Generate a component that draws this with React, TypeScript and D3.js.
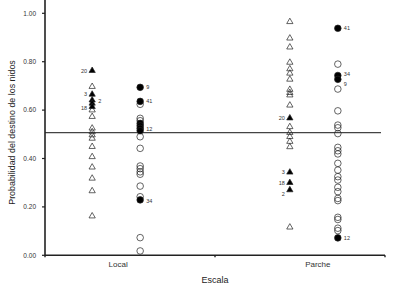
import React from "react";
import * as d3 from "d3";

const categories = ["Local", "Parche"];
const yTicks = [0, 0.2, 0.4, 0.6, 0.8, 1.0];
const cutoff = 0.507;

// Local – triangles
const localTriOpen = [0.697, 0.6, 0.573, 0.525, 0.51, 0.497, 0.483, 0.449, 0.407, 0.364, 0.318, 0.266, 0.162];
const localTriFilled = [0.763, 0.665, 0.641, 0.628, 0.614];
// Local – circles
const localCirOpen = [0.624, 0.566, 0.556, 0.49, 0.442, 0.369, 0.358, 0.345, 0.335, 0.286, 0.242, 0.073, 0.018];
const localCirFilled = [0.694, 0.636, 0.545, 0.535, 0.525, 0.515, 0.229];
// Parche – triangles
const parcheTriOpen = [0.965, 0.897, 0.86, 0.797, 0.77, 0.752, 0.727, 0.685, 0.672, 0.662, 0.62, 0.531, 0.507, 0.49, 0.47, 0.448, 0.116];
const parcheTriFilled = [0.567, 0.343, 0.3, 0.27];
// Parche – circles
const parcheCirOpen = [0.79, 0.687, 0.597, 0.538, 0.527, 0.503, 0.446, 0.432, 0.419, 0.38, 0.352, 0.325, 0.311, 0.281, 0.263, 0.235, 0.226, 0.157, 0.148, 0.112, 0.102];
const parcheCirFilled = [0.938, 0.743, 0.727, 0.072];

// point labels: [category, shape, value, text, side]
const pointLabels: [string, string, number, string, string][] = [
  ["Local", "tri", 0.763, "20", "left"],
  ["Local", "tri", 0.665, "3", "left"],
  ["Local", "tri", 0.638, "2", "right"],
  ["Local", "tri", 0.61, "18", "left"],
  ["Local", "cir", 0.694, "9", "right"],
  ["Local", "cir", 0.639, "41", "right"],
  ["Local", "cir", 0.52, "12", "right"],
  ["Local", "cir", 0.226, "34", "right"],
  ["Parche", "tri", 0.567, "20", "left"],
  ["Parche", "tri", 0.343, "3", "left"],
  ["Parche", "tri", 0.3, "18", "left"],
  ["Parche", "tri", 0.253, "2", "left"],
  ["Parche", "cir", 0.94, "41", "right"],
  ["Parche", "cir", 0.75, "34", "right"],
  ["Parche", "cir", 0.706, "9", "right"],
  ["Parche", "cir", 0.07, "12", "right"],
];

const W = 394;
const H = 288;
const x0 = 45;
const x1 = 385;
const yBottom = 255.3;

export default function App() {
  const x = d3.scalePoint<string>().domain(categories).range([x0, x1]).padding(0.36);
  const y = d3.scaleLinear().domain([0, 1.055]).range([yBottom, 0]);
  const off = { tri: -24, cir: 24 };
  const tri = d3.symbol().type(d3.symbolTriangle).size(17)() as string;
  const font = "'Liberation Sans', Arial, sans-serif";

  const groups: { cat: string; shape: "tri" | "cir"; filled: boolean; vals: number[] }[] = [
    { cat: "Local", shape: "tri", filled: false, vals: localTriOpen },
    { cat: "Local", shape: "tri", filled: true, vals: localTriFilled },
    { cat: "Local", shape: "cir", filled: false, vals: localCirOpen },
    { cat: "Local", shape: "cir", filled: true, vals: localCirFilled },
    { cat: "Parche", shape: "tri", filled: false, vals: parcheTriOpen },
    { cat: "Parche", shape: "tri", filled: true, vals: parcheTriFilled },
    { cat: "Parche", shape: "cir", filled: false, vals: parcheCirOpen },
    { cat: "Parche", shape: "cir", filled: true, vals: parcheCirFilled },
  ];

  return (
    <svg width={W} height={H} style={{ position: "absolute", left: 0, top: 0, background: "#fff" }} fontFamily={font}>
      {/* reference line */}
      <line x1={x0} x2={381} y1={y(cutoff)} y2={y(cutoff)} stroke="#444" strokeWidth={1.4} />
      {/* axes */}
      <line x1={x0} x2={x0} y1={0} y2={yBottom} stroke="#222" strokeWidth={1.6} />
      <line x1={x0} x2={x1} y1={yBottom} y2={yBottom} stroke="#222" strokeWidth={1.6} />
      {yTicks.map((t) => (
        <g key={t}>
          <line x1={x0 - 3} x2={x0} y1={y(t)} y2={y(t)} stroke="#222" strokeWidth={1.2} />
          <text x={36} y={y(t)} dy="0.35em" textAnchor="end" fontSize={6.5} fill="#333">
            {t.toFixed(2)}
          </text>
        </g>
      ))}
      {[x0, (x0 + x1) / 2, x1].map((t) => (
        <line key={t} x1={t} x2={t} y1={yBottom} y2={yBottom + 2} stroke="#222" strokeWidth={1.4} />
      ))}
      {categories.map((c, i) => (
        <text key={c} x={(x(c) as number) + (i === 0 ? 2 : 4)} y={266.5} textAnchor="middle" fontSize={8} fill="#333">
          {c}
        </text>
      ))}
      <text x={(x0 + x1) / 2} y={283} textAnchor="middle" fontSize={9} fill="#222">
        Escala
      </text>
      <text transform={`translate(15,132.5) rotate(-90)`} textAnchor="middle" fontSize={8.9} fill="#222">
        Probabilidad del destino de los nidos
      </text>
      {/* points */}
      {groups.map((g, gi) =>
        g.vals.map((v, i) => {
          const cx = (x(g.cat) as number) + off[g.shape];
          const cy = y(v);
          return g.shape === "tri" ? (
            <path
              key={`${gi}-${i}`}
              d={tri}
              transform={`translate(${cx},${cy})`}
              fill={g.filled ? "#000" : "none"}
              stroke="#222"
              strokeWidth={0.7}
            />
          ) : (
            <circle
              key={`${gi}-${i}`}
              cx={cx}
              cy={cy}
              r={3.3}
              fill={g.filled ? "#000" : "none"}
              stroke="#222"
              strokeWidth={0.7}
            />
          );
        })
      )}
      {pointLabels.map(([cat, shape, v, t, side], i) => {
        const cx = (x(cat) as number) + off[shape as "tri" | "cir"];
        const left = side === "left";
        return (
          <text
            key={i}
            x={left ? cx - 5 : cx + 6}
            y={y(v)}
            dy="0.35em"
            textAnchor={left ? "end" : "start"}
            fontSize={5.5}
            fill="#333"
          >
            {t}
          </text>
        );
      })}
    </svg>
  );
}
